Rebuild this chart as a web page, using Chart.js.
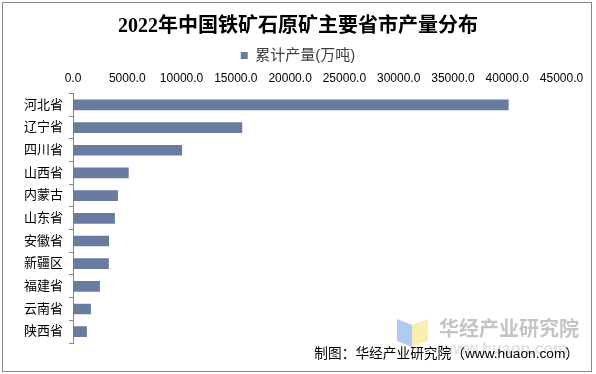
<!DOCTYPE html>
<html>
<head>
<meta charset="utf-8">
<script src="https://cdn.jsdelivr.net/npm/chart.js@4"></script>
<style>
  html, body { margin: 0; padding: 0; background: #fff; }
  #wrap { position: relative; width: 596px; height: 374px; }
</style>
</head>
<body>
<div id="wrap"><canvas id="ore"></canvas></div>
<script>
// 2022 iron ore output by province (10k tonnes)
const provinces = ['河北省', '辽宁省', '四川省', '山西省', '内蒙古', '山东省', '安徽省', '新疆区', '福建省', '云南省', '陕西省']
const output = [40100, 15560, 10020, 5100, 4110, 3830, 3290, 3270, 2450, 1620, 1250]
const seriesName = '累计产量(万吨)'
const titleText = '2022年中国铁矿石原矿主要省市产量分布'
const sourceText = '制图：华经产业研究院（www.huaon.com）'

const cjk = '"Liberation Sans", "Noto Sans CJK SC", sans-serif'

// border, watermark and source line
const decor = {
    id: 'decor',
    afterDraw(chart) {
        const ctx = chart.ctx
        ctx.save()
        // watermark logo
        ctx.fillStyle = '#aecbf2'
        ctx.beginPath()
        ctx.moveTo(397, 319); ctx.lineTo(412, 325); ctx.lineTo(412, 347); ctx.lineTo(397, 341)
        ctx.closePath(); ctx.fill()
        ctx.fillStyle = '#f8eeb0'
        ctx.beginPath()
        ctx.moveTo(412, 325); ctx.lineTo(428, 319); ctx.lineTo(428, 341); ctx.lineTo(412, 347)
        ctx.closePath(); ctx.fill()
        ctx.fillStyle = '#c4c4c4'
        ctx.font = 'bold 20px "Noto Sans CJK SC", sans-serif'
        ctx.textBaseline = 'middle'
        ctx.textAlign = 'left'
        ctx.fillText('华经产业研究院', 439, 328)
        ctx.fillStyle = '#e2e2e2'
        ctx.font = 'bold 16px "Liberation Sans", sans-serif'
        ctx.fillText('www.huaon.com', 441, 350)
        // source
        ctx.fillStyle = '#000'
        ctx.font = '13.7px ' + cjk
        ctx.textAlign = 'right'
        ctx.fillText(sourceText, 579, 354)
        // frame
        ctx.strokeStyle = '#888'
        ctx.lineWidth = 1
        ctx.strokeRect(2.5, 2.5, 589, 369)
        ctx.restore()
    }
}

const ctx = document.getElementById('ore')
new Chart(ctx, {
    type: 'bar',
    data: {
        labels: provinces,
        datasets: [{
            label: seriesName,
            data: output,
            backgroundColor: '#687ca1',
            barThickness: 10
        }]
    },
    options: {
        indexAxis: 'y',
        responsive: true,
        maintainAspectRatio: false,
        animation: false,
        layout: {padding: {top: 0, left: 0, right: 0, bottom: 31}},
        plugins: {
            title: {
                display: true,
                text: titleText,
                color: '#000',
                font: {family: '"Liberation Serif", "Noto Sans CJK SC", serif', size: 20, weight: 'bold'},
                padding: {top: 15, bottom: 0}
            },
            legend: {
                display: true,
                labels: {
                    color: '#404040',
                    font: {family: cjk, size: 15},
                    boxWidth: 7,
                    boxHeight: 7,
                    padding: 9
                }
            },
            tooltip: {enabled: false}
        },
        scales: {
            x: {
                position: 'top',
                min: 0,
                max: 45000,
                grid: {display: false, drawTicks: false},
                border: {display: false},
                ticks: {
                    stepSize: 5000,
                    color: '#000',
                    font: {family: '"Liberation Sans", sans-serif', size: 12},
                    padding: 8,
                    maxRotation: 0,
                    callback: v => v.toFixed(1)
                },
                afterFit(scale) { scale.height = 20.6 }
            },
            y: {
                grid: {display: true, drawOnChartArea: false, offset: true, tickLength: 4, color: '#868686'},
                border: {display: true, color: '#868686'},
                ticks: {
                    color: '#000',
                    font: {family: cjk, size: 13},
                    padding: 6
                },
                afterFit(scale) { scale.width = 73 }
            },
            // empty spacer on the right so the title stays centred on the page
            yRight: {
                position: 'right',
                grid: {display: false},
                border: {display: false},
                ticks: {display: false},
                afterFit(scale) { scale.width = 34.5 }
            }
        }
    },
    plugins: [decor]
})
</script>
</body>
</html>
